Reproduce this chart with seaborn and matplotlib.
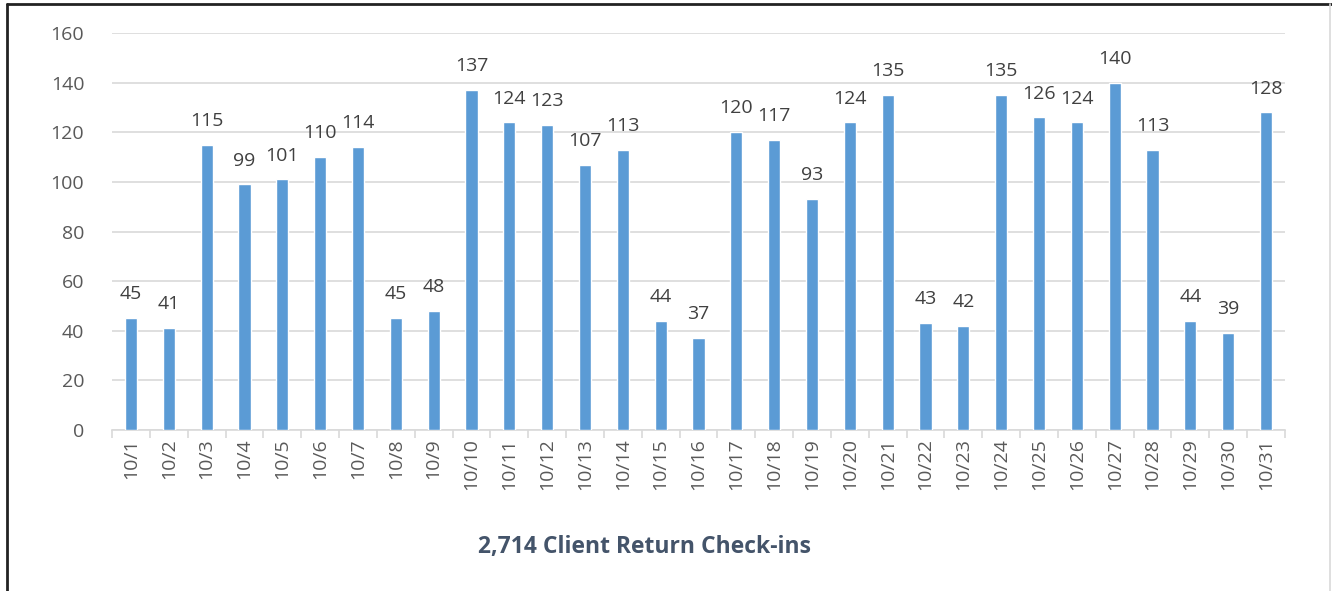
import numpy as np
import pandas as pd
import matplotlib
matplotlib.use('Agg')
import matplotlib.pyplot as plt
import seaborn as sns
from matplotlib.lines import Line2D

days = ['10/%d' % d for d in range(1, 32)]
checkins = [45, 41, 115, 99, 101, 110, 114, 45, 48, 137, 124, 123, 107, 113, 44,
            37, 120, 117, 93, 124, 135, 43, 42, 135, 126, 124, 140, 113, 44, 39, 128]
title = '2,714 Client Return Check-ins'

df = pd.DataFrame({'day': days, 'checkins': checkins})

sns.set_theme(style='white')
plt.rcParams['font.family'] = ['Open Sans', 'DejaVu Sans']
text_col = '#595959'

fig = plt.figure(figsize=(13.32, 5.91), dpi=100)
ax = fig.add_axes([0.0841, 0.2724, 0.8806, 0.6716])

sns.barplot(data=df, x='day', y='checkins', color='#5B9BD5', width=0.32,
            saturation=1, ax=ax, zorder=3)

for i, v in enumerate(checkins):
    ax.text(i, v + 6, str(v), ha='center', va='bottom', fontsize=14, color='#404040')

ax.set_ylim(0, 160)
ax.set_xlim(-0.5, len(days) - 0.5)
ax.set_yticks(range(0, 161, 20))
ax.yaxis.grid(True, color='#D9D9D9', linewidth=1.2, zorder=0)
ax.set_xlabel('')
ax.set_ylabel('')
for s in ['top', 'right', 'left']:
    ax.spines[s].set_visible(False)
ax.spines['bottom'].set_color('#D9D9D9')
ax.spines['bottom'].set_linewidth(1.2)
ax.tick_params(axis='y', length=0, labelsize=14, labelcolor=text_col, pad=20)
ax.tick_params(axis='x', length=0, labelsize=14, labelcolor=text_col, pad=6)
plt.setp(ax.get_xticklabels(), rotation=90)

# category boundary tick marks below axis
ax.set_xticks(np.arange(-0.5, len(days), 1), minor=True)
ax.tick_params(axis='x', which='minor', length=6, color='#D9D9D9', width=1.2, bottom=True)

fig.text(0.4835, 1 - 547 / 591, title, ha='center', va='center', fontsize=16.5,
         fontweight='bold', color='#44546A')

# outer frame: dark top and left, light right
y_top = 1 - 4 / 591
x_left = 7 / 1332
x_right = 1330 / 1332
fig.add_artist(Line2D([x_left, 1], [y_top, y_top], transform=fig.transFigure,
                      color='#222222', linewidth=2))
fig.add_artist(Line2D([x_left, x_left], [0, y_top], transform=fig.transFigure,
                      color='#222222', linewidth=2))
fig.add_artist(Line2D([x_right, x_right], [0, y_top], transform=fig.transFigure,
                      color='#D9D9D9', linewidth=1.2))

fig.savefig('out.png', dpi=100, facecolor='white')
